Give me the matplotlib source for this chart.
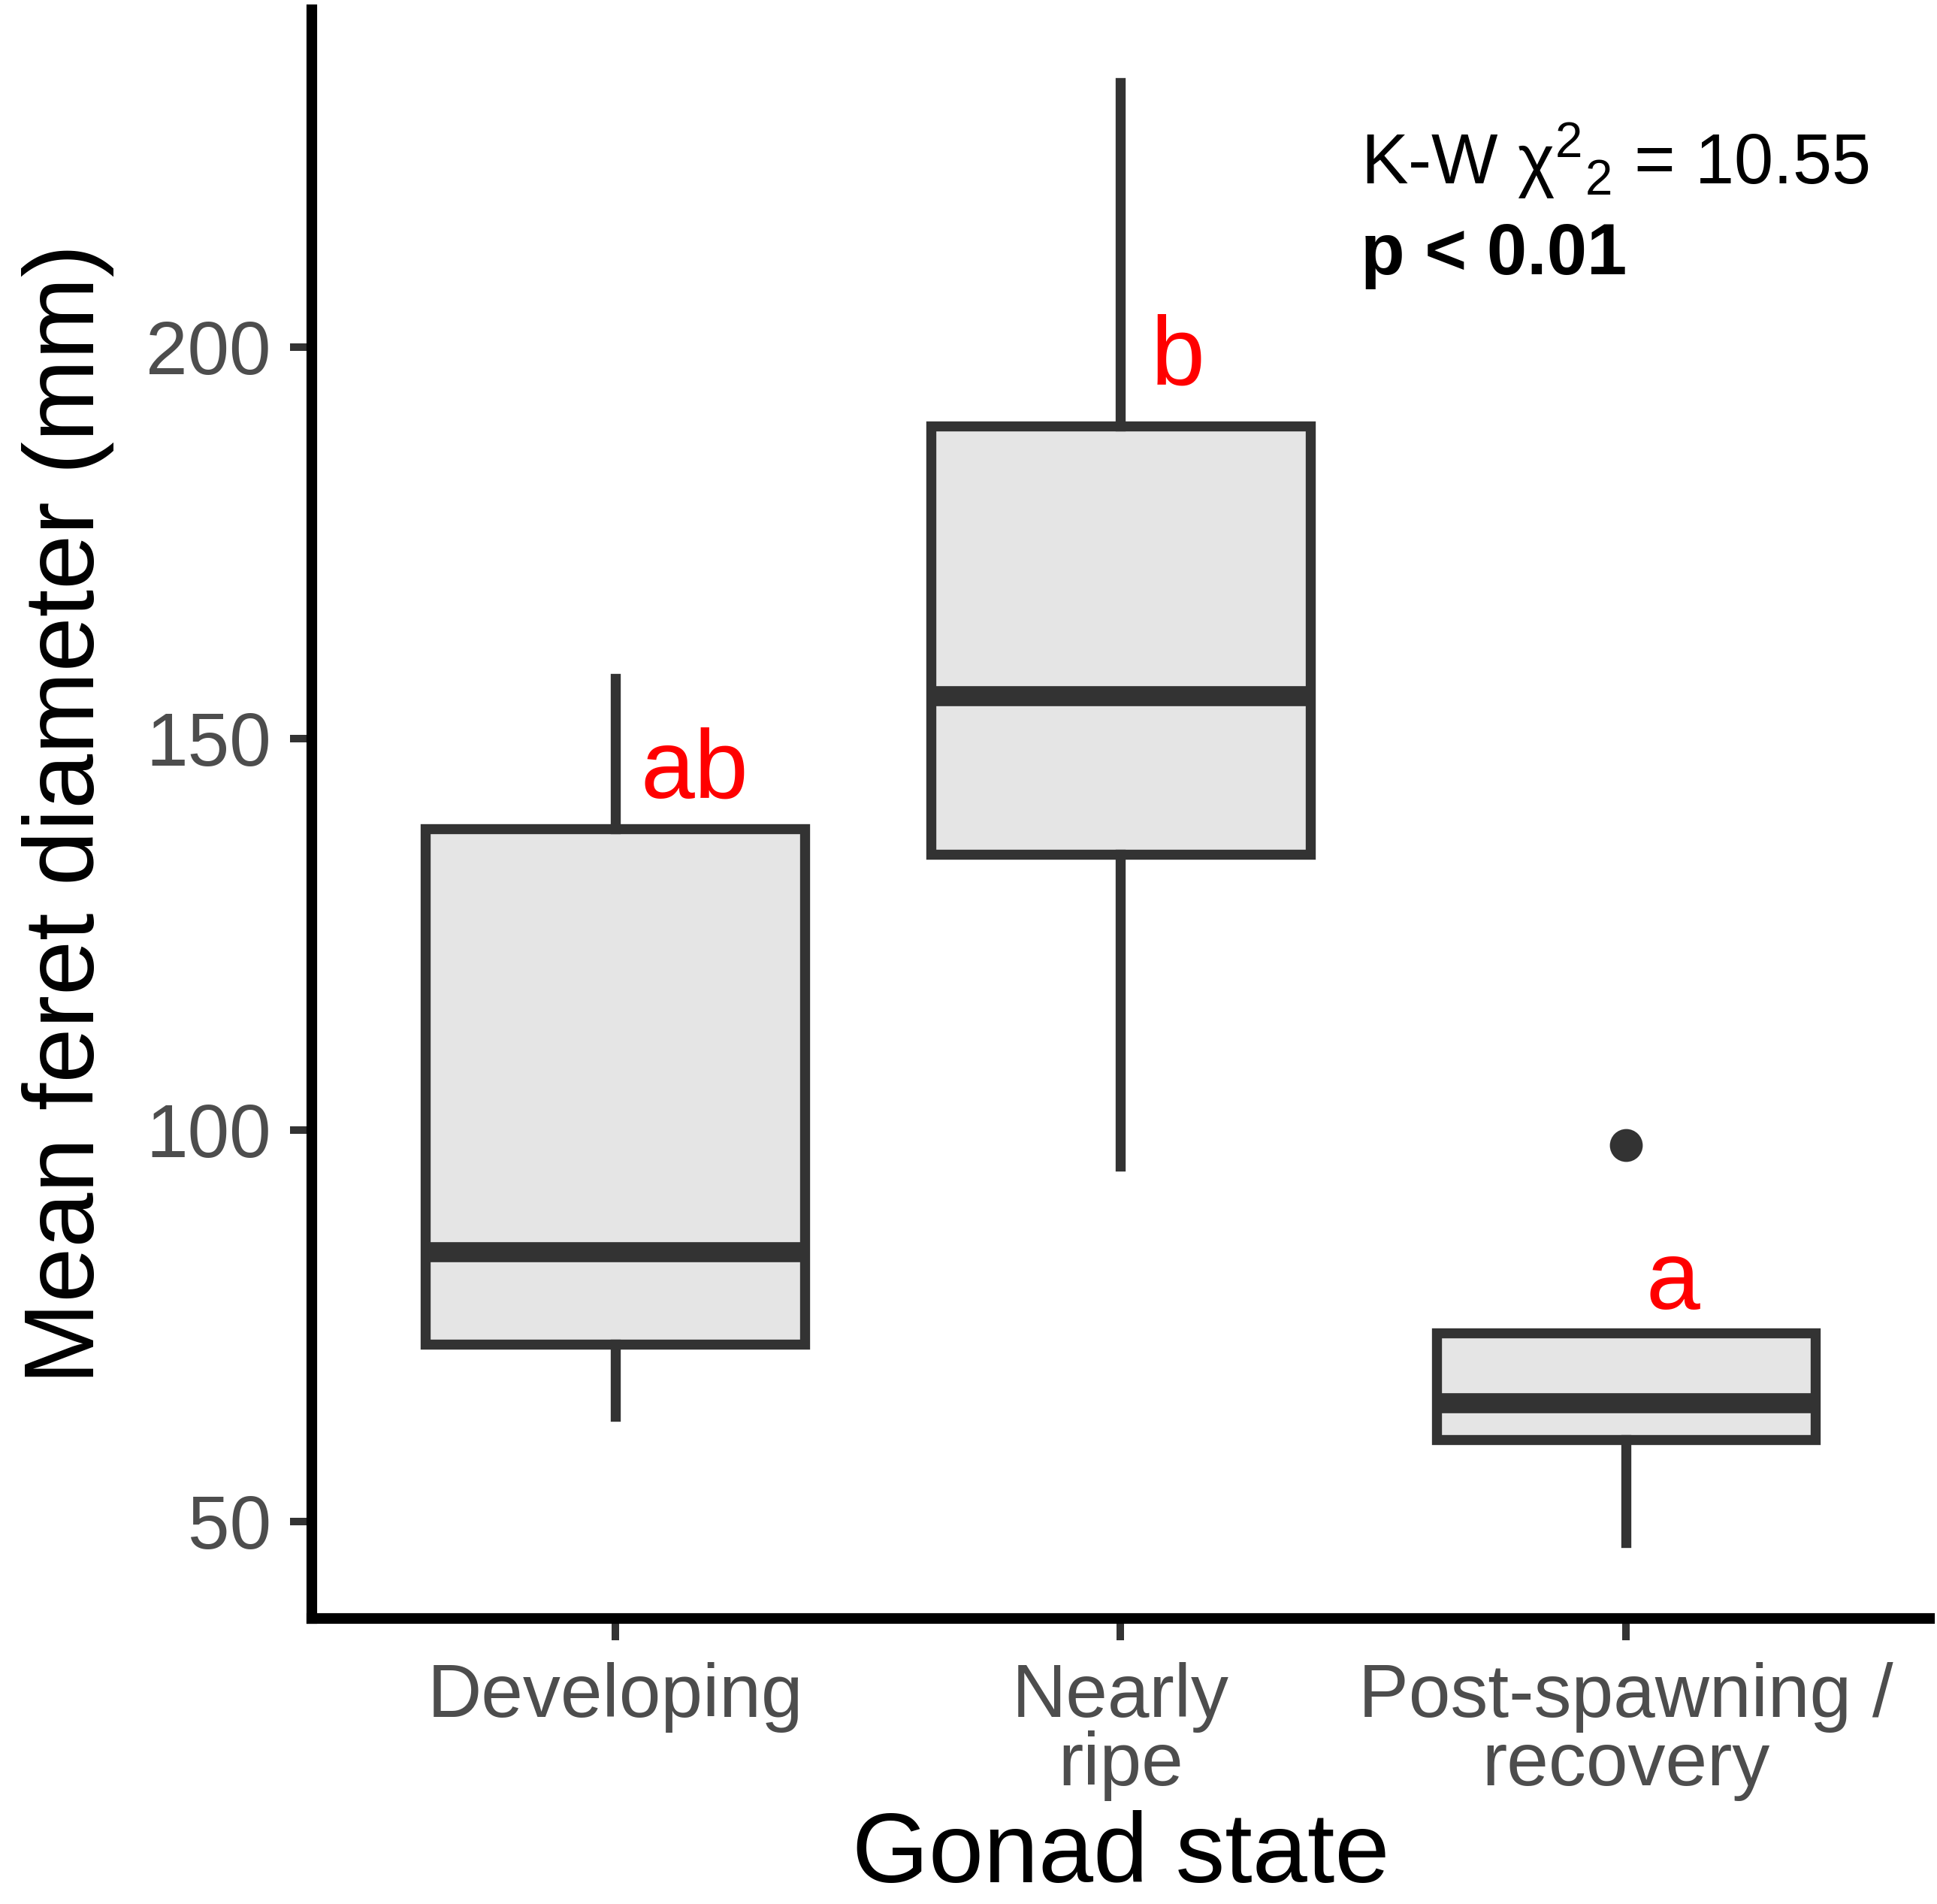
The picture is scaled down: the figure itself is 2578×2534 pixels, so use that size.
import matplotlib
matplotlib.use("Agg")
import matplotlib.pyplot as plt

plt.rcParams['font.family'] = ['Liberation Sans', 'DejaVu Sans']
plt.rcParams['mathtext.fontset'] = 'custom'
plt.rcParams['mathtext.rm'] = 'Liberation Sans'
plt.rcParams['mathtext.it'] = 'Liberation Sans:italic'

# data
groups = ["Developing", "Nearly\nripe", "Post-spawning /\nrecovery"]
whisker_low = [63.4, 95.4, 47.3]
q1 = [72.6, 135.2, 60.4]
medians = [84.4, 155.4, 65.1]
q3 = [138.5, 189.9, 74.1]
whisker_high = [157.7, 233.8, 74.1]
outliers = [[], [], [98.1]]
letters = ["ab", "b", "a"]
letter_x = [1.05, 2.06, 3.04]
letter_y = [142.4, 195.2, 77.1]

edge = '#333333'

fig = plt.figure(figsize=(2578 / 300, 2534 / 300), dpi=300)
ax = fig.add_axes([0.161, 0.150, 0.835, 0.845])

stats = []
for i in range(len(groups)):
    stats.append({"whislo": whisker_low[i], "q1": q1[i], "med": medians[i],
                  "q3": q3[i], "whishi": whisker_high[i], "fliers": outliers[i]})

ax.bxp(stats, positions=[1, 2, 3], widths=0.75, patch_artist=True, showcaps=False,
       boxprops=dict(facecolor='#E5E5E5', edgecolor=edge, linewidth=3.2),
       medianprops=dict(color=edge, linewidth=6.4, solid_capstyle='butt'),
       whiskerprops=dict(color=edge, linewidth=3.2),
       flierprops=dict(marker='o', markerfacecolor=edge, markeredgecolor=edge, markersize=9.5))

for i in range(len(letters)):
    ax.text(letter_x[i], letter_y[i], letters[i], color='red', fontsize=31,
            ha='left', va='baseline')

ax.text(2.475, 220.8, r'K-W χ$^{2}{}_{2}$ = 10.55', fontsize=22.5, ha='left', va='baseline')
ax.text(2.475, 209.3, 'p < 0.01', fontsize=23, fontweight='bold', ha='left', va='baseline')

ax.set_xlim(0.4, 3.6)
ax.set_ylim(37.6, 243.1)
ax.set_yticks([50, 100, 150, 200])
ax.set_xticks([1, 2, 3])
ax.set_xticklabels(groups, linespacing=0.95)

for s in ['top', 'right']:
    ax.spines[s].set_visible(False)
for s in ['left', 'bottom']:
    ax.spines[s].set_linewidth(3.4)
    ax.spines[s].set_color('black')

ax.tick_params(axis='both', length=7, width=2.4, color=edge, labelcolor='#4D4D4D',
               labelsize=24, pad=6)
ax.tick_params(axis='x', pad=7)

ax.set_xlabel("Gonad state", fontsize=31.5, labelpad=3)
ax.set_ylabel("Mean feret diameter (mm)", fontsize=31.5, labelpad=10)

fig.savefig("out.png", dpi=300)
plt.close()
